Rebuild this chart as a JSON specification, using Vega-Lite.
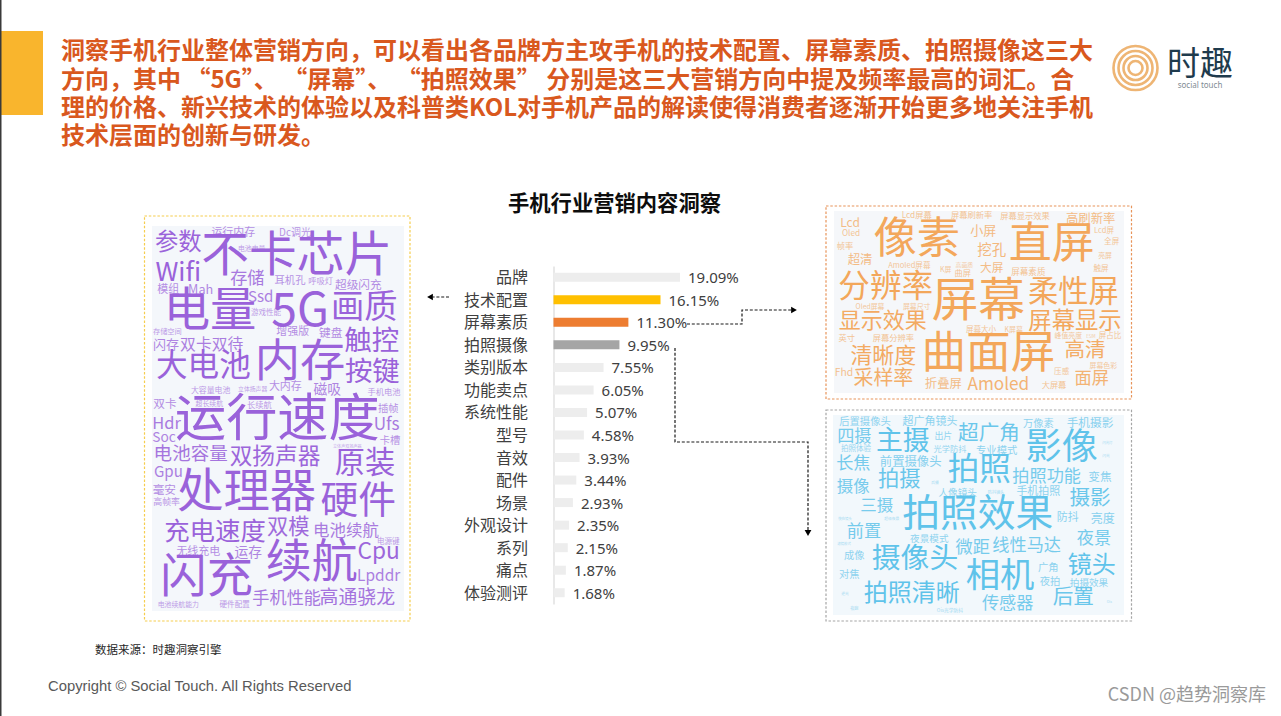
{"$schema":"https://vega.github.io/schema/vega-lite/v6.json","width":1281,"height":716,"padding":0,"autosize":{"type":"none"},"background":"#ffffff","config":{"view":{"stroke":null},"text":{"font":"Noto Sans CJK SC"}},
"resolve":{"scale":{"x":"independent","y":"independent","color":"independent","stroke":"independent","size":"independent","opacity":"independent"}},
"datasets":{
"frames":[{"name":"left","x":144.5,"x2":410,"y":216,"y2":621,"ix":152,"ix2":404,"iy":226,"iy2":611},{"name":"top","x":826,"x2":1131.5,"y":206,"y2":399,"ix":834,"ix2":1124,"iy":211,"iy2":393},{"name":"bottom","x":826,"x2":1131.5,"y":410,"y2":621,"ix":833,"ix2":1124,"iy":415,"iy2":615}],
"bars":[{"c":"品牌","v":0.1909},{"c":"技术配置","v":0.1615},{"c":"屏幕素质","v":0.113},{"c":"拍照摄像","v":0.0995},{"c":"类别版本","v":0.0755},{"c":"功能卖点","v":0.0605},{"c":"系统性能","v":0.0507},{"c":"型号","v":0.0458},{"c":"音效","v":0.0393},{"c":"配件","v":0.0344},{"c":"场景","v":0.0293},{"c":"外观设计","v":0.0235},{"c":"系列","v":0.0215},{"c":"痛点","v":0.0187},{"c":"体验测评","v":0.0168}]
},
"layer":[
{"data":{"values":[{"x":0,"x2":43,"y":31,"y2":115}]},"mark":{"type":"rect","fill":"#F9B52D"},"encoding":{"x":{"field":"x","type":"quantitative","scale":{"domain":[0,1281],"range":[0,1281]},"axis":null},"x2":{"field":"x2"},"y":{"field":"y","type":"quantitative","scale":{"domain":[0,716],"range":[0,716]},"axis":null},"y2":{"field":"y2"}}},
{"data":{"values":[{"x":0.5,"y":0,"y2":716}]},"mark":{"type":"rule","stroke":"#3a3a3a","strokeWidth":2},"encoding":{"x":{"field":"x","type":"quantitative","scale":{"domain":[0,1281],"range":[0,1281]},"axis":null},"y":{"field":"y","type":"quantitative","scale":{"domain":[0,716],"range":[0,716]},"axis":null},"y2":{"field":"y2"}}},
{"data":{"values":[{"t":"洞察手机行业整体营销方向\uFF0C可以看出各品牌方主攻手机的技术配置、屏幕素质、拍照摄像这三大","x":61,"y":52},{"t":"方向\uFF0C其中 “5G”、 “屏幕”、 “拍照效果” 分别是这三大营销方向中提及频率最高的词汇。合","x":61,"y":81},{"t":"理的价格、新兴技术的体验以及科普类KOL对手机产品的解读使得消费者逐渐开始更多地关注手机","x":61,"y":109},{"t":"技术层面的创新与研发。","x":61,"y":137}]},"mark":{"type":"text","align":"left","baseline":"middle","font":"Noto Sans CJK SC","fontWeight":"bold","fontSize":24,"fill":"#D9581E"},"encoding":{"x":{"field":"x","type":"quantitative","scale":{"domain":[0,1281],"range":[0,1281]},"axis":null},"y":{"field":"y","type":"quantitative","scale":{"domain":[0,716],"range":[0,716]},"axis":null},"text":{"field":"t"}}},
{"data":{"values":[{"x":1135.5,"y":68,"d":44},{"x":1135.5,"y":68,"d":34},{"x":1135.5,"y":68,"d":24},{"x":1135.5,"y":68,"d":14}]},"mark":{"type":"point","shape":"circle","filled":false,"stroke":"#E8963A","strokeWidth":2.6},"encoding":{"x":{"field":"x","type":"quantitative","scale":{"domain":[0,1281],"range":[0,1281]},"axis":null},"y":{"field":"y","type":"quantitative","scale":{"domain":[0,716],"range":[0,716]},"axis":null},"size":{"field":"d","type":"quantitative","scale":{"type":"pow","exponent":2,"domain":[0,44],"range":[0,1936]},"legend":null}}},
{"data":{"values":[{"t":"时趣","x":1200,"y":65}]},"mark":{"type":"text","align":"center","baseline":"middle","font":"Noto Sans CJK SC","fontSize":33,"fill":"#1F3B4D"},"encoding":{"x":{"field":"x","type":"quantitative","scale":{"domain":[0,1281],"range":[0,1281]},"axis":null},"y":{"field":"y","type":"quantitative","scale":{"domain":[0,716],"range":[0,716]},"axis":null},"text":{"field":"t"}}},
{"data":{"values":[{"t":"social touch","x":1200,"y":86}]},"mark":{"type":"text","align":"center","baseline":"middle","font":"Noto Sans","fontSize":8,"fill":"#7F8C94","letterSpacing":1.3},"encoding":{"x":{"field":"x","type":"quantitative","scale":{"domain":[0,1281],"range":[0,1281]},"axis":null},"y":{"field":"y","type":"quantitative","scale":{"domain":[0,716],"range":[0,716]},"axis":null},"text":{"field":"t"}}},
{"data":{"values":[{"t":"手机行业营销内容洞察","x":614.5,"y":204.5}]},"mark":{"type":"text","align":"center","baseline":"middle","font":"Noto Sans CJK SC","fontWeight":"bold","fontSize":21.3,"fill":"#0D0D0D"},"encoding":{"x":{"field":"x","type":"quantitative","scale":{"domain":[0,1281],"range":[0,1281]},"axis":null},"y":{"field":"y","type":"quantitative","scale":{"domain":[0,716],"range":[0,716]},"axis":null},"text":{"field":"t"}}},
{"data":{"name":"frames"},"mark":{"type":"rect"},"encoding":{"x":{"field":"ix","type":"quantitative","scale":{"domain":[0,1281],"range":[0,1281]},"axis":null},"x2":{"field":"ix2"},"y":{"field":"iy","type":"quantitative","scale":{"domain":[0,716],"range":[0,716]},"axis":null},"y2":{"field":"iy2"},"color":{"field":"name","type":"nominal","scale":{"domain":["left","top","bottom"],"range":["#F4F7FB","#F5F7FA","#F2F8FC"]},"legend":null}}},
{"data":{"name":"frames"},"mark":{"type":"rect","fill":null,"strokeWidth":1.2,"strokeDash":[2.5,1.8]},"encoding":{"x":{"field":"x","type":"quantitative","scale":{"domain":[0,1281],"range":[0,1281]},"axis":null},"x2":{"field":"x2"},"y":{"field":"y","type":"quantitative","scale":{"domain":[0,716],"range":[0,716]},"axis":null},"y2":{"field":"y2"},"stroke":{"field":"name","type":"nominal","scale":{"domain":["left","top","bottom"],"range":["#F6CD4E","#E8945A","#A6A6A6"]},"legend":null}}},
{"data":{"name":"bars"},"mark":{"type":"bar","size":9},"encoding":{"y":{"field":"c","type":"nominal","sort":null,"scale":{"range":[266,604]},"axis":{"title":null,"offset":-553.5,"ticks":false,"labelFont":"Noto Sans CJK SC","labelFontSize":16,"labelColor":"#404040","labelPadding":26,"labelOffset":1,"domainColor":"#D9D9D9","domainWidth":1.2,"grid":false}},"x":{"field":"v","type":"quantitative","scale":{"domain":[0,0.1909],"range":[553.5,680]},"axis":null},"color":{"field":"c","type":"nominal","scale":{"domain":["品牌","技术配置","屏幕素质","拍照摄像","类别版本","功能卖点","系统性能","型号","音效","配件","场景","外观设计","系列","痛点","体验测评"],"range":["#EDEDED","#FFC000","#ED7D31","#A5A5A5","#EDEDED","#EDEDED","#EDEDED","#EDEDED","#EDEDED","#EDEDED","#EDEDED","#EDEDED","#EDEDED","#EDEDED","#EDEDED"]},"legend":null}}},
{"data":{"name":"bars"},"mark":{"type":"text","align":"left","baseline":"middle","dx":8,"dy":1,"font":"Noto Sans","fontSize":15,"fill":"#404040"},"encoding":{"y":{"field":"c","type":"nominal","sort":null,"scale":{"range":[266,604]},"axis":null},"x":{"field":"v","type":"quantitative","scale":{"domain":[0,0.1909],"range":[553.5,680]},"axis":null},"text":{"field":"v","type":"quantitative","format":".2%"}}},
{"data":{"values":[{"g":"a","o":1,"x":449,"y":297},{"g":"a","o":2,"x":433,"y":297},{"g":"b","o":1,"x":687,"y":324},{"g":"b","o":2,"x":742,"y":324},{"g":"b","o":3,"x":742,"y":310},{"g":"b","o":4,"x":791,"y":310},{"g":"c","o":1,"x":675,"y":348},{"g":"c","o":2,"x":675,"y":442},{"g":"c","o":3,"x":808,"y":442},{"g":"c","o":4,"x":808,"y":530}]},"mark":{"type":"line","stroke":"#1A1A1A","strokeWidth":1.2,"strokeDash":[3,1.8]},"encoding":{"x":{"field":"x","type":"quantitative","scale":{"domain":[0,1281],"range":[0,1281]},"axis":null},"y":{"field":"y","type":"quantitative","scale":{"domain":[0,716],"range":[0,716]},"axis":null},"detail":{"field":"g"},"order":{"field":"o"}}},
{"data":{"values":[{"dir":"left","x":430,"y":297},{"dir":"right","x":794,"y":310},{"dir":"down","x":808,"y":533}]},"mark":{"type":"point","filled":true,"fill":"#000000","size":45,"opacity":1},"encoding":{"x":{"field":"x","type":"quantitative","scale":{"domain":[0,1281],"range":[0,1281]},"axis":null},"y":{"field":"y","type":"quantitative","scale":{"domain":[0,716],"range":[0,716]},"axis":null},"shape":{"field":"dir","type":"nominal","scale":{"domain":["left","right","down"],"range":["triangle-left","triangle-right","triangle-down"]},"legend":null}}},
{"data":{"values":[{"w":"运行内存","x":280,"y":70,"s":32},{"w":"Dc调光","x":465,"y":68,"s":29},{"w":"参数","x":115,"y":100,"s":68},{"w":"不卡芯片","x":470,"y":140,"s":139},{"w":"电池电量","x":335,"y":116,"s":20},{"w":"Wifi","x":115,"y":190,"s":76},{"w":"存储","x":322,"y":208,"s":50},{"w":"耳机孔","x":450,"y":212,"s":30},{"w":"呼吸灯","x":542,"y":216,"s":24},{"w":"超级闪充","x":655,"y":225,"s":34},{"w":"模组","x":85,"y":240,"s":32},{"w":"Mah","x":182,"y":240,"s":37},{"w":"电量","x":210,"y":305,"s":135},{"w":"Ssd","x":362,"y":262,"s":44},{"w":"5G","x":480,"y":305,"s":135},{"w":"画质","x":673,"y":295,"s":97},{"w":"游戏性能","x":378,"y":310,"s":22},{"w":"存储空间","x":82,"y":366,"s":21},{"w":"增强版","x":458,"y":365,"s":32},{"w":"键盘","x":572,"y":368,"s":34},{"w":"触控","x":695,"y":397,"s":80},{"w":"闪存","x":78,"y":405,"s":38},{"w":"双卡双待","x":215,"y":405,"s":46},{"w":"内存","x":480,"y":460,"s":132},{"w":"大电池","x":190,"y":470,"s":92},{"w":"按键","x":697,"y":490,"s":80},{"w":"大容量电池","x":212,"y":542,"s":23},{"w":"立体扬声器","x":338,"y":537,"s":17},{"w":"大内存","x":436,"y":530,"s":32},{"w":"磁吸","x":562,"y":540,"s":40},{"w":"手机电池","x":732,"y":548,"s":24},{"w":"双卡","x":75,"y":582,"s":34},{"w":"超长续航","x":208,"y":582,"s":20},{"w":"长续航","x":358,"y":587,"s":24},{"w":"插帧","x":745,"y":597,"s":30},{"w":"运行速度","x":412,"y":632,"s":149},{"w":"Hdr","x":80,"y":643,"s":48},{"w":"Ufs","x":740,"y":645,"s":50},{"w":"Soc","x":72,"y":685,"s":40},{"w":"卡槽","x":750,"y":693,"s":30},{"w":"电池容量","x":152,"y":733,"s":54},{"w":"双扬声器","x":405,"y":742,"s":66},{"w":"立体声双扬声器","x":622,"y":712,"s":12},{"w":"原装","x":675,"y":763,"s":88},{"w":"Gpu","x":85,"y":787,"s":44},{"w":"毫安","x":73,"y":839,"s":34},{"w":"高帧率","x":80,"y":877,"s":26},{"w":"处理器","x":320,"y":848,"s":135},{"w":"硬件","x":655,"y":877,"s":110},{"w":"充电速度","x":225,"y":965,"s":74},{"w":"双模","x":445,"y":953,"s":62},{"w":"电池续航","x":618,"y":962,"s":48},{"w":"电源键","x":745,"y":997,"s":22},{"w":"无线充电","x":175,"y":1025,"s":32},{"w":"运存","x":325,"y":1029,"s":40},{"w":"续航","x":515,"y":1060,"s":134},{"w":"Cpu","x":716,"y":1025,"s":66},{"w":"Lpddr","x":716,"y":1099,"s":45},{"w":"闪充","x":200,"y":1105,"s":135},{"w":"手机性能","x":440,"y":1167,"s":50},{"w":"高通骁龙","x":652,"y":1165,"s":55},{"w":"电池续航能力","x":115,"y":1186,"s":20},{"w":"硬件配置","x":284,"y":1186,"s":22}]},"mark":{"type":"text","align":"center","baseline":"middle","font":"Noto Sans CJK SC","fill":"#9A62DA"},"encoding":{"x":{"field":"x","type":"quantitative","scale":{"domain":[0,825],"range":[140,415]},"axis":null},"y":{"field":"y","type":"quantitative","scale":{"domain":[0,1245],"range":[210,625]},"axis":null},"text":{"field":"w"},"size":{"field":"s","type":"quantitative","scale":{"domain":[0,300],"range":[0,103]},"legend":null},"opacity":{"field":"s","type":"quantitative","scale":{"domain":[12,70],"range":[0.55,1],"clamp":true},"legend":null}}},
{"data":{"values":[{"w":"Lcd","x":90,"y":68,"s":35},{"w":"Oled","x":93,"y":101,"s":24},{"w":"帧率","x":75,"y":141,"s":24},{"w":"像素","x":290,"y":120,"s":126},{"w":"Lcd屏幕","x":290,"y":48,"s":24},{"w":"屏幕刷新率","x":455,"y":48,"s":24},{"w":"屏幕显示效果","x":615,"y":50,"s":24},{"w":"高刷新率","x":812,"y":57,"s":36},{"w":"小屏","x":490,"y":93,"s":38},{"w":"直屏","x":695,"y":135,"s":125},{"w":"Lcd屏","x":852,"y":92,"s":22},{"w":"挖孔","x":515,"y":152,"s":42},{"w":"全屏","x":875,"y":127,"s":22},{"w":"超清","x":120,"y":180,"s":36},{"w":"亮屏","x":855,"y":167,"s":20},{"w":"Amoled屏幕","x":268,"y":198,"s":22},{"w":"K屏","x":377,"y":210,"s":20},{"w":"高画质","x":433,"y":194,"s":17},{"w":"曲屏","x":428,"y":222,"s":24},{"w":"大屏","x":515,"y":205,"s":34},{"w":"屏幕素质","x":625,"y":215,"s":25},{"w":"触屏","x":843,"y":207,"s":22},{"w":"分辨率","x":197,"y":263,"s":92},{"w":"屏幕","x":475,"y":305,"s":136},{"w":"柔性屏","x":760,"y":278,"s":88},{"w":"Oled屏幕","x":150,"y":320,"s":20},{"w":"屏幕尺寸","x":290,"y":320,"s":20},{"w":"显示效果","x":188,"y":362,"s":64},{"w":"屏幕显示","x":765,"y":365,"s":68},{"w":"屏幕大小","x":483,"y":390,"s":22},{"w":"K屏幕","x":581,"y":390,"s":20},{"w":"峰值亮度","x":745,"y":409,"s":20},{"w":"ESIM","x":813,"y":410,"s":12},{"w":"屏占比","x":870,"y":408,"s":22},{"w":"英寸","x":80,"y":416,"s":24},{"w":"屏幕分辨率","x":220,"y":418,"s":24},{"w":"曲面屏","x":505,"y":465,"s":130},{"w":"清晰度","x":190,"y":468,"s":64},{"w":"高清","x":795,"y":452,"s":60},{"w":"屏幕色彩","x":850,"y":498,"s":20},{"w":"Fhd","x":72,"y":518,"s":30},{"w":"压感","x":725,"y":516,"s":22},{"w":"采样率","x":190,"y":537,"s":58},{"w":"面屏","x":815,"y":537,"s":50},{"w":"折叠屏","x":370,"y":552,"s":36},{"w":"Amoled","x":535,"y":555,"s":50},{"w":"大屏幕","x":702,"y":558,"s":24}]},"mark":{"type":"text","align":"center","baseline":"middle","font":"Noto Sans CJK SC","fill":"#F3A75B"},"encoding":{"x":{"field":"x","type":"quantitative","scale":{"domain":[0,960],"range":[820,1140]},"axis":null},"y":{"field":"y","type":"quantitative","scale":{"domain":[0,615],"range":[200,405]},"axis":null},"text":{"field":"w"},"size":{"field":"s","type":"quantitative","scale":{"domain":[0,300],"range":[0,103]},"legend":null},"opacity":{"field":"s","type":"quantitative","scale":{"domain":[12,70],"range":[0.55,1],"clamp":true},"legend":null}}},
{"data":{"values":[{"w":"后置摄像头","x":135,"y":50,"s":30},{"w":"超广角镜头","x":330,"y":50,"s":32},{"w":"万像素","x":655,"y":58,"s":30},{"w":"手机摄影","x":810,"y":53,"s":34},{"w":"四摄","x":103,"y":95,"s":50},{"w":"主摄","x":248,"y":110,"s":78},{"w":"超广角","x":507,"y":87,"s":60},{"w":"影像","x":725,"y":130,"s":105},{"w":"出片","x":370,"y":92,"s":26},{"w":"闪光灯","x":862,"y":113,"s":10},{"w":"拍照体验","x":108,"y":133,"s":22},{"w":"光学防抖","x":390,"y":135,"s":24},{"w":"专业模式","x":530,"y":138,"s":30},{"w":"长焦","x":100,"y":177,"s":50},{"w":"前置摄像头","x":272,"y":172,"s":36},{"w":"拍照","x":478,"y":197,"s":92},{"w":"闪光","x":858,"y":152,"s":11},{"w":"拍照功能","x":680,"y":215,"s":50},{"w":"变焦","x":840,"y":215,"s":34},{"w":"拍摄","x":238,"y":225,"s":62},{"w":"后摄","x":345,"y":234,"s":11},{"w":"摄像","x":100,"y":247,"s":48},{"w":"人像镜头","x":413,"y":264,"s":28},{"w":"防抖镜头","x":528,"y":263,"s":12},{"w":"手机拍照","x":655,"y":262,"s":32},{"w":"摄影","x":810,"y":282,"s":60},{"w":"三摄","x":170,"y":303,"s":48},{"w":"拍照效果","x":473,"y":330,"s":110},{"w":"防抖","x":743,"y":338,"s":32},{"w":"亮度","x":848,"y":342,"s":35},{"w":"快充镜头","x":75,"y":343,"s":10},{"w":"超级夜景","x":215,"y":343,"s":11},{"w":"前置","x":132,"y":380,"s":50},{"w":"夜景模式","x":328,"y":402,"s":28},{"w":"夜景","x":822,"y":402,"s":50},{"w":"微距","x":458,"y":430,"s":50},{"w":"线性马达","x":620,"y":422,"s":50},{"w":"滤镜模式","x":72,"y":416,"s":10},{"w":"摄像头","x":285,"y":462,"s":84},{"w":"成像","x":103,"y":454,"s":30},{"w":"相机","x":540,"y":515,"s":100},{"w":"镜头","x":815,"y":482,"s":70},{"w":"广角","x":685,"y":488,"s":30},{"w":"对焦","x":88,"y":510,"s":30},{"w":"夜拍","x":690,"y":532,"s":30},{"w":"拍摄效果","x":807,"y":534,"s":28},{"w":"拍照清晰","x":275,"y":567,"s":70},{"w":"逆光","x":75,"y":568,"s":11},{"w":"传感器","x":563,"y":598,"s":50},{"w":"后置","x":760,"y":580,"s":60},{"w":"夜跑","x":103,"y":611,"s":12},{"w":"Ois光学防抖","x":390,"y":618,"s":14},{"w":"Ois","x":868,"y":592,"s":10}]},"mark":{"type":"text","align":"center","baseline":"middle","font":"Noto Sans CJK SC","fill":"#5FC3EA"},"encoding":{"x":{"field":"x","type":"quantitative","scale":{"domain":[0,960],"range":[820,1140]},"axis":null},"y":{"field":"y","type":"quantitative","scale":{"domain":[0,675],"range":[405,630]},"axis":null},"text":{"field":"w"},"size":{"field":"s","type":"quantitative","scale":{"domain":[0,300],"range":[0,103]},"legend":null},"opacity":{"field":"s","type":"quantitative","scale":{"domain":[12,70],"range":[0.55,1],"clamp":true},"legend":null}}},
{"data":{"values":[{"t":"数据来源\uFF1A时趣洞察引擎","x":95,"y":651}]},"mark":{"type":"text","align":"left","baseline":"middle","font":"Noto Sans CJK SC","fontSize":11.5,"fill":"#262626"},"encoding":{"x":{"field":"x","type":"quantitative","scale":{"domain":[0,1281],"range":[0,1281]},"axis":null},"y":{"field":"y","type":"quantitative","scale":{"domain":[0,716],"range":[0,716]},"axis":null},"text":{"field":"t"}}},
{"data":{"values":[{"t":"Copyright © Social Touch. All Rights Reserved","x":48,"y":687}]},"mark":{"type":"text","align":"left","baseline":"middle","font":"Liberation Sans","fontSize":14.8,"fill":"#595959"},"encoding":{"x":{"field":"x","type":"quantitative","scale":{"domain":[0,1281],"range":[0,1281]},"axis":null},"y":{"field":"y","type":"quantitative","scale":{"domain":[0,716],"range":[0,716]},"axis":null},"text":{"field":"t"}}},
{"data":{"values":[{"t":"CSDN @趋势洞察库","x":1266,"y":696}]},"mark":{"type":"text","align":"right","baseline":"middle","font":"Noto Sans CJK SC","fontSize":18,"letterSpacing":1.2,"fill":"#9A9A9A"},"encoding":{"x":{"field":"x","type":"quantitative","scale":{"domain":[0,1281],"range":[0,1281]},"axis":null},"y":{"field":"y","type":"quantitative","scale":{"domain":[0,716],"range":[0,716]},"axis":null},"text":{"field":"t"}}}
]}
